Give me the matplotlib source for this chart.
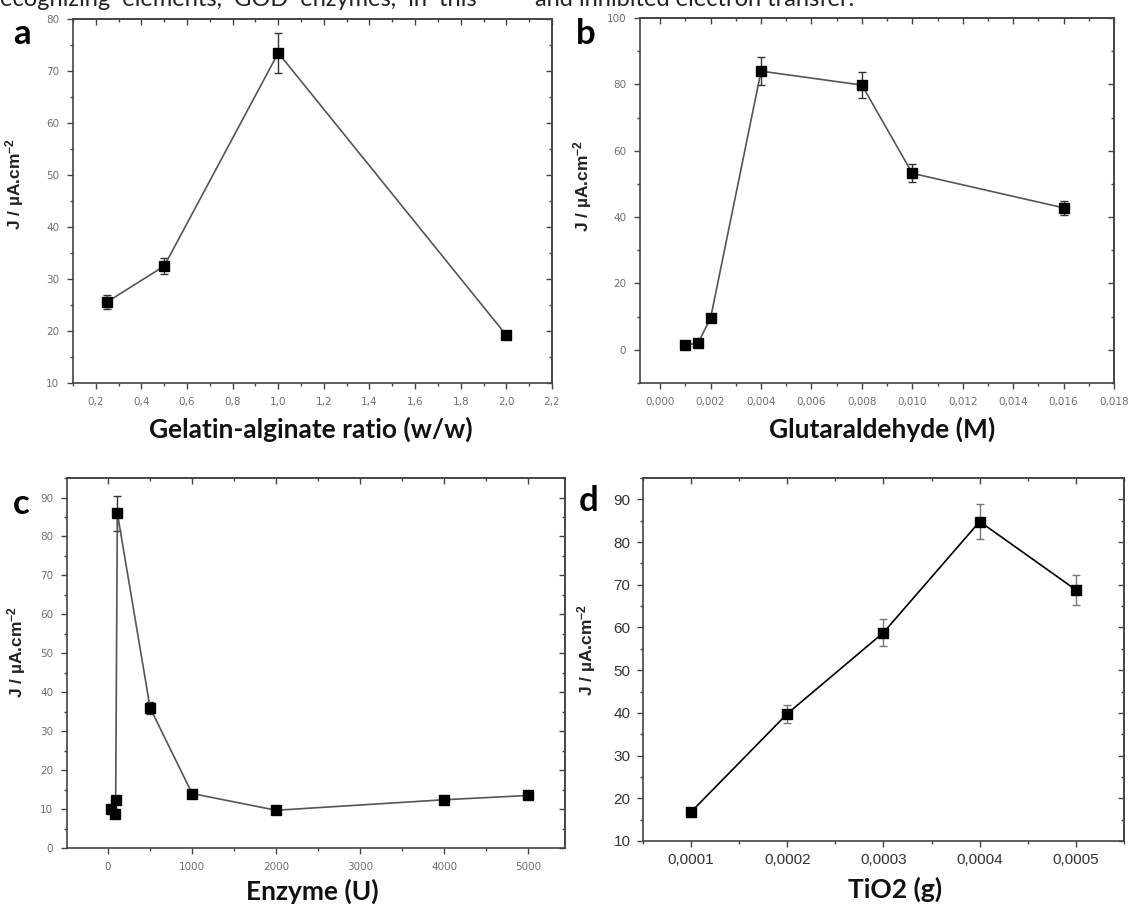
# Four-panel optimisation plot (a: gelatin-alginate, b: glutaraldehyde, c: enzyme, d: TiO2)

import numpy
import matplotlib
matplotlib.use("Agg")
import matplotlib.pyplot as plt
from matplotlib.ticker import MultipleLocator, FuncFormatter

plt.rcParams['font.family'] = ['Liberation Sans', 'DejaVu Sans']
plt.rcParams['mathtext.default'] = 'regular'

# panel a
ratio = [0.25, 0.5, 1.0, 2.0]
j_ratio = [25.6, 32.5, 73.5, 19.2]
err_ratio = [1.3, 1.6, 3.9, 0.7]

# panel b
glut = [0.001, 0.0015, 0.002, 0.004, 0.008, 0.010, 0.016]
j_glut = [1.5, 2.0, 9.6, 84.0, 79.8, 53.2, 42.8]
err_glut = [0.3, 0.5, 1.0, 4.3, 4.0, 2.7, 2.2]

# panel c
enzyme = [30, 80, 90, 110, 500, 1000, 2000, 4000, 5000]
j_enzyme = [9.9, 8.8, 12.4, 86.0, 36.0, 14.0, 9.7, 12.4, 13.5]
err_enzyme = [0.6, 0.5, 0.6, 4.5, 1.5, 0.7, 0.5, 0.5, 0.6]

# panel d
tio2 = [0.0001, 0.0002, 0.0003, 0.0004, 0.0005]
j_tio2 = [16.8, 39.8, 58.8, 84.8, 68.8]
err_tio2 = [0.5, 2.1, 3.1, 4.2, 3.5]

ylab = 'J / \u00b5A.cm$^{-2}$'


def comma(decimals):
    return FuncFormatter(lambda v, p: ('%.*f' % (decimals, v)).replace('.', ','))


def style_axes(ax, xmaj, xmin, ymaj, ymin, xdec, tick_font, tick_size, tick_color, pad, spine_color):
    ax.xaxis.set_major_locator(MultipleLocator(xmaj))
    ax.xaxis.set_minor_locator(MultipleLocator(xmin))
    ax.yaxis.set_major_locator(MultipleLocator(ymaj))
    ax.yaxis.set_minor_locator(MultipleLocator(ymin))
    ax.xaxis.set_major_formatter(comma(xdec))
    ax.yaxis.set_major_formatter(comma(0))
    ax.tick_params(which='both', direction='out', color=spine_color, width=1.0,
                   labelsize=tick_size, labelcolor=tick_color, pad=pad)
    ax.tick_params(which='major', length=4)
    ax.tick_params(which='minor', length=2.5)
    for lab in ax.get_xticklabels() + ax.get_yticklabels():
        lab.set_family(tick_font)
    for s in ax.spines.values():
        s.set_color(spine_color)
        s.set_linewidth(1.2)
    # mirrored ticks pointing inward on top and right
    top = ax.secondary_xaxis('top')
    top.xaxis.set_major_locator(MultipleLocator(xmaj))
    top.xaxis.set_minor_locator(MultipleLocator(xmin))
    top.tick_params(which='both', direction='in', labeltop=False, color=spine_color, width=1.0)
    top.tick_params(which='major', length=4)
    top.tick_params(which='minor', length=2.5)
    top.spines['top'].set_color(spine_color)
    top.spines['top'].set_linewidth(1.2)
    right = ax.secondary_yaxis('right')
    right.yaxis.set_major_locator(MultipleLocator(ymaj))
    right.yaxis.set_minor_locator(MultipleLocator(ymin))
    right.tick_params(which='both', direction='in', labelright=False, color=spine_color, width=1.0)
    right.tick_params(which='major', length=4)
    right.tick_params(which='minor', length=2.5)
    right.spines['right'].set_color(spine_color)
    right.spines['right'].set_linewidth(1.2)


fig = plt.figure(figsize=(11.35, 9.07), dpi=100)

ax_a = fig.add_axes([0.0643, 0.5777, 0.4220, 0.4013])
ax_b = fig.add_axes([0.5639, 0.5777, 0.4176, 0.4024])
ax_c = fig.add_axes([0.0590, 0.0650, 0.4388, 0.4079])
ax_d = fig.add_axes([0.5665, 0.0728, 0.4238, 0.4002])

grey_line = '#555555'
ax_a.errorbar(ratio, j_ratio, yerr=err_ratio, color=grey_line, lw=1.2, marker='s', ms=7,
              mfc='black', mec='black', ecolor='#333333', elinewidth=1.0, capsize=3)
ax_b.errorbar(glut, j_glut, yerr=err_glut, color=grey_line, lw=1.2, marker='s', ms=7,
              mfc='black', mec='black', ecolor='#333333', elinewidth=1.0, capsize=3)
ax_c.errorbar(enzyme, j_enzyme, yerr=err_enzyme, color=grey_line, lw=1.2, marker='s', ms=7,
              mfc='black', mec='black', ecolor='#333333', elinewidth=1.0, capsize=3)
ax_d.errorbar(tio2, j_tio2, yerr=err_tio2, color='black', lw=1.2, marker='s', ms=7,
              mfc='black', mec='black', ecolor='#777777', elinewidth=1.0, capsize=3)

ax_a.set_xlim(0.1, 2.2)
ax_a.set_ylim(10, 80)
ax_b.set_xlim(-0.0008, 0.018)
ax_b.set_ylim(-10, 100)
ax_c.set_xlim(-490, 5440)
ax_c.set_ylim(0, 95)
ax_d.set_xlim(0.00005, 0.00055)
ax_d.set_ylim(10, 95)

small = ['DejaVu Sans']
style_axes(ax_a, 0.2, 0.1, 10, 5, 1, small, 7.5, '#707070', 6, '#444444')
style_axes(ax_b, 0.002, 0.001, 20, 10, 3, small, 7.5, '#707070', 6, '#444444')
style_axes(ax_c, 1000, 500, 10, 5, 0, small, 7.5, '#707070', 6, '#444444')
style_axes(ax_d, 0.0001, 0.00005, 10, 5, 4, ['Liberation Sans'], 11, '#333333', 5, '#444444')

# axis titles
xfont = dict(family=['Lato', 'DejaVu Sans'], fontweight='bold', fontsize=19, color='#111111')
fig.text(311 / 1135, 1 - 438 / 907, 'Gelatin-alginate ratio (w/w)', ha='center', va='baseline', **xfont)
fig.text(882 / 1135, 1 - 438 / 907, 'Glutaraldehyde (M)', ha='center', va='baseline', **xfont)
fig.text(312 / 1135, 1 - 900 / 907, 'Enzyme (U)', ha='center', va='baseline', **xfont)
fig.text(895 / 1135, 1 - 898 / 907, 'TiO2 (g)', ha='center', va='baseline', **xfont)

for ax, lx, ly in [(ax_a, -0.099, 0.547), (ax_b, -0.097, 0.54), (ax_c, -0.078, 0.53), (ax_d, -0.094, 0.526)]:
    ax.set_ylabel(ylab, fontsize=12.5, fontweight='bold', color='#222222')
    ax.yaxis.set_label_coords(lx, ly)

# panel letters
pfont = dict(family=['Lato', 'DejaVu Sans'], fontweight='bold', fontsize=25, color='black')
fig.text(13 / 1135, 1 - 34 / 907, 'a', ha='left', va='center', **pfont)
fig.text(576 / 1135, 1 - 34 / 907, 'b', ha='left', va='center', **pfont)
fig.text(13 / 1135, 1 - 504 / 907, 'c', ha='left', va='center', **pfont)
fig.text(579 / 1135, 1 - 501 / 907, 'd', ha='left', va='center', **pfont)

# clipped line of article text at the very top
tfont = dict(family=['Lato', 'DejaVu Sans'], fontsize=17, color='#222222')
fig.text(0.0, 1.0, 'ecognizing  elements,  GOD  enzymes,  in  this', ha='left', va='center', **tfont)
fig.text(535 / 1135, 1.0, 'and inhibited electron transfer.', ha='left', va='center', **tfont)

fig.savefig('out.png', dpi=100)
